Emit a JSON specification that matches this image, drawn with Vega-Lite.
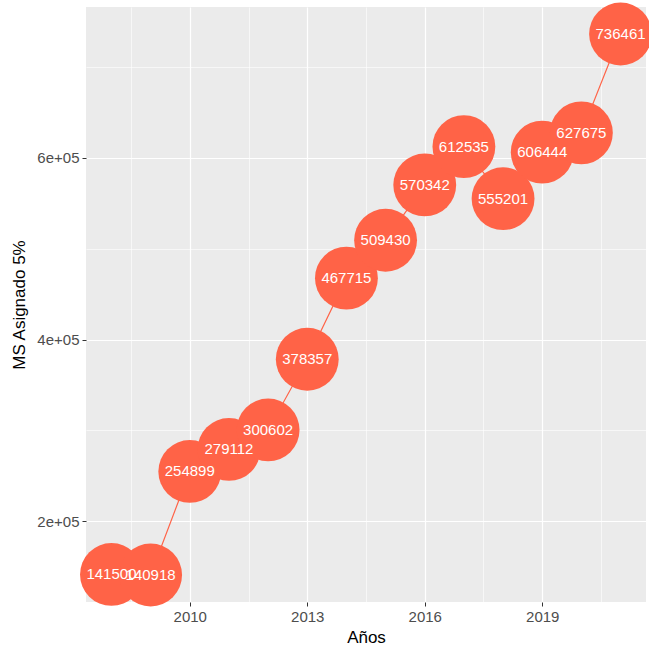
{
  "$schema": "https://vega.github.io/schema/vega-lite/v6.json",
  "width": 560,
  "height": 595,
  "autosize": "none",
  "padding": {"left": 86, "top": 7, "right": 3, "bottom": 48},
  "background": "white",
  "config": {
    "view": {"fill": "#EBEBEB", "stroke": null},
    "font": "Liberation Sans",
    "axis": {
      "domain": false,
      "gridColor": "white",
      "tickColor": "#333333",
      "tickSize": 4,
      "labelColor": "#4D4D4D",
      "labelFontSize": 15,
      "labelOverlap": false,
      "titleColor": "black",
      "titleFontWeight": "normal",
      "titleFontSize": 17
    }
  },
  "data": {
    "values": [
      {"anio": 2008, "ms": 141500},
      {"anio": 2009, "ms": 140918},
      {"anio": 2010, "ms": 254899},
      {"anio": 2011, "ms": 279112},
      {"anio": 2012, "ms": 300602},
      {"anio": 2013, "ms": 378357},
      {"anio": 2014, "ms": 467715},
      {"anio": 2015, "ms": 509430},
      {"anio": 2016, "ms": 570342},
      {"anio": 2017, "ms": 612535},
      {"anio": 2018, "ms": 555201},
      {"anio": 2019, "ms": 606444},
      {"anio": 2020, "ms": 627675},
      {"anio": 2021, "ms": 736461}
    ]
  },
  "encoding": {
    "x": {
      "field": "anio",
      "type": "quantitative",
      "scale": {"domain": [2007.35, 2021.65], "nice": false, "zero": false},
      "axis": {
        "title": "Años",
        "titlePadding": 5,
        "values": [2008.5, 2010, 2011.5, 2013, 2014.5, 2016, 2017.5, 2019, 2020.5],
        "labelExpr": "datum.value % 1 === 0 ? '' + datum.value : ''",
        "labelPadding": 3,
        "gridWidth": {"condition": {"test": "datum.value % 1 === 0", "value": 1.2}, "value": 0.6},
        "tickOpacity": {"condition": {"test": "datum.value % 1 === 0", "value": 1}, "value": 0}
      }
    },
    "y": {
      "field": "ms",
      "type": "quantitative",
      "scale": {"domain": [111141, 766238], "nice": false, "zero": false},
      "axis": {
        "title": "MS Asignado 5%",
        "titlePadding": 8,
        "values": [200000, 300000, 400000, 500000, 600000, 700000],
        "labelExpr": "datum.value % 200000 === 0 ? (datum.value / 100000) + 'e+05' : ''",
        "labelPadding": 3,
        "gridWidth": {"condition": {"test": "datum.value % 200000 === 0", "value": 1.2}, "value": 0.6},
        "tickOpacity": {"condition": {"test": "datum.value % 200000 === 0", "value": 1}, "value": 0}
      }
    }
  },
  "layer": [
    {"mark": {"type": "line", "color": "#FF6347", "strokeWidth": 1.2}},
    {"mark": {"type": "circle", "color": "#FF6347", "size": 3950, "opacity": 1}},
    {
      "mark": {"type": "text", "color": "white", "fontSize": 15, "align": "center", "baseline": "middle"},
      "encoding": {"text": {"field": "ms", "type": "nominal"}}
    }
  ]
}
